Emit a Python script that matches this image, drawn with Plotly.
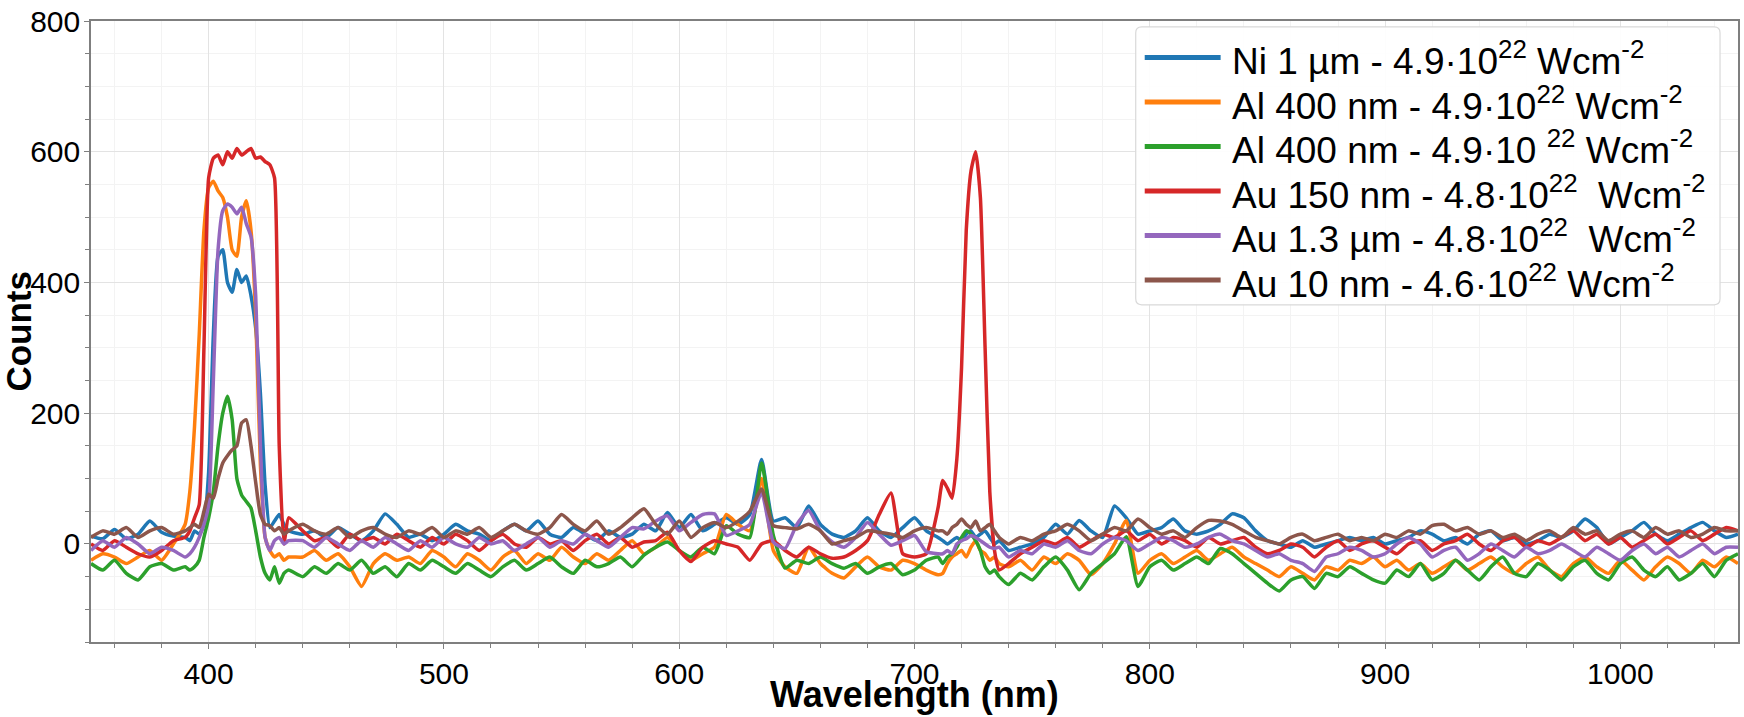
import plotly.graph_objects as go

# ---------------- data ----------------
wavelength = [
    350, 355, 360, 365, 370, 375, 380, 385,
    390, 392, 394, 396, 398, 400, 402, 404, 406, 408, 410, 412, 414, 416, 418, 420, 422, 424, 426, 428, 430, 432, 434,
    440, 445, 450, 455, 460, 465, 470, 475, 480, 485,
    490, 495, 500, 505, 510, 515, 520, 525, 530, 535,
    540, 545, 550, 555, 560, 565, 570, 575, 580, 585,
    590, 595, 600, 605, 610, 615, 620, 625, 630, 635,
    640, 645, 650, 655, 660, 665, 670, 675, 680, 685,
    690, 695, 700, 705, 710,
    712, 714, 716, 718, 720, 722, 724, 726, 728, 730, 732, 734, 736,
    740, 745, 750, 755, 760, 765, 770, 775, 780, 785,
    790, 795, 800, 805, 810, 815, 820, 825, 830, 835,
    840, 845, 850, 855, 860, 865, 870, 875, 880, 885,
    890, 895, 900, 905, 910, 915, 920, 925, 930, 935,
    940, 945, 950, 955, 960, 965, 970, 975, 980, 985,
    990, 995, 1000, 1005, 1010, 1015, 1020, 1025, 1030, 1035,
    1040, 1045, 1050,
]

ni_1um = [
    12, 8, 22, 8, 15, 35, 18, 12,
    10, 5, 20, 15, 30, 110, 320, 440, 450, 400, 385, 420, 400, 410, 380, 330, 230, 90, 25, 35, 45, 30, 20,
    15, 20, 10, 25, 15, 5, 20, 46, 30, 10,
    15, 5, 15, 30, 20, 15, 5, 20, 30, 20,
    35, 15, 10, 25, 15, 5, 20, 10, 15, 30,
    20, 48, 25, 45, 20, 30, 40, 30, 45, 129,
    35, 40, 25, 58, 30, 15, 10, 20, 40, 20,
    10, 25, 40, 20, 10,
    5, 0, 5, 10, 5, 15, 20, 10, 15, 20, 10, 0, 5,
    -10, -5, 0, 10, 30, 15, 36, 20, 10, 58,
    40, 15, 20, 25, 38, 20, 15, 20, 30, 46,
    40, 20, 5, 0, -5, 5, -5, 0, 5, 10,
    5, 10, 0, 5, 10, 20, 15, 5, 10, 0,
    15, 20, 5, 10, 0, 5, 15, 10, 20, 38,
    25, 0, 10, 20, 33, 15, 5, 15, 25, 33,
    20, 10, 15,
]

al_400nm_a = [
    -25, -15, -20, -30, -20, -10, -25, 0,
    30, 80, 180, 320, 480, 545, 555, 540, 530, 500, 450, 440, 500, 525, 480, 350, 120, 10, -10, -20, -15, -25, -20,
    -20, -10, -25, -15, -35, -65, -30, -15, -25, -20,
    -30, -10, -20, -35, -15, -25, -40, -20, -10, -30,
    -15, -25, -5, -20, -30, -15, -25, -10, 5, -15,
    -5, 10, -10, -25, -15, -5, 45, 30, 20, 100,
    -10, -35, -45, -5, -30, -45, -52, -35, -20, -35,
    -40, -25, -30, -40, -47,
    -45, -30, -20, -15, -10, -20, -5, 5, -10, -15, -25, -20, -30,
    -35, -25, -40, -20, -30, -15, -25, -47, -30, 0,
    36, -45, -25, -15, -30, -20, -10, -25, -15, -5,
    -20, -30, -40, -50, -35, -45, -55, -35, -40, -25,
    -30, -20, -35, -25, -40, -30, -45, -35, -25, -40,
    -30, -20, -35, -45, -30, -20, -40, -50, -30, -20,
    -35, -45, -25, -40, -55, -35, -20, -30, -45, -25,
    -35, -20, -30,
]

al_400nm_b = [
    -30, -40, -25, -45, -55, -35, -30, -40,
    -35, -40, -35, -25, 10, 40, 80, 150, 200, 226, 190, 100, 75, 65, 55, 20, -20, -45, -55, -35, -60, -45, -40,
    -50, -35, -45, -30, -40, -25, -45, -35, -50, -30,
    -40, -25, -35, -45, -30, -40, -50, -35, -25, -40,
    -30, -20, -35, -45, -25, -35, -30, -20, -35, -17,
    -5, 3, -10, -20, -5, -15, 28, 15, 10, 124,
    13, -37, -25, -30, -20, -30, -37, -30, -45, -35,
    -30, -47, -40, -25, -20,
    -30, -20, -15, -5, 10, 20, 15, 5, -10, -35, -45, -40, -50,
    -62, -45, -55, -35, -20, -40, -70, -45, -30, -15,
    11, -65, -35, -25, -40, -30, -20, -30, -7, -15,
    -30, -45, -60, -72, -55, -50, -68, -45, -50, -35,
    -45, -55, -60, -40, -50, -30, -55, -45, -25, -40,
    -55, -35, -20, -45, -50, -30, -40, -55, -35, -25,
    -45, -55, -30, -20, -40, -50, -35, -55, -45, -30,
    -50, -25, -15,
]

au_150nm = [
    0, -10, 5, -5, -15, -20, -10, 5,
    10, 20, 40, 60, 300, 560, 590, 595, 580, 600, 590, 605, 595, 600, 605, 590, 592, 585, 580, 560, 150, 0, 40,
    20, 5, 10, -5, 15, 5, 10, 0, 15, 5,
    -5, 10, 0, 15, 5, -10, 5, 15, 0, -5,
    10, 0, 5, -10, 5, 15, 0, 10, -5, 3,
    5, 18, -10, -27, -5, 5, 0, -5, -25, 0,
    5, -10, -20, -5, -15, -22, -20, -10, 5, 45,
    78, -15, -20, -15, 55,
    97, 85, 70, 130, 270, 480, 570, 600, 530, 300, 80, -10, -40,
    -30, -15, -5, 5, 0, 10, -5, 5, 15, 10,
    20, 5, 15, 0, 10, 5, -5, 10, 0, 5,
    10, -5, -15, -10, 0, -5, -20, -5, 5, -10,
    0, 5, -5, -15, 0, 5, -10, 0, 5, 15,
    0, -10, 5, 10, -5, 5, 0, 10, 20, 5,
    15, 0, 10, -5, 5, 15, 0, 10, 20, 5,
    15, 25, 20,
]

au_1_3um = [
    -10, 5, -5, 10, 0, -15, -5, -10,
    -20, -15, -5, 10, 30, 60, 250, 450, 510, 520, 515, 505, 515, 490, 470, 380, 150, 10, -10, 5, 10, 0, 5,
    5, -5, 10, 0, -10, 5, -5, 10, 0, -10,
    5, -5, 10, 0, -5, 10, 0, 5, -10, 0,
    10, -5, 5, 0, 15, 5, -5, 10, 25, 23,
    35, 43, 20, 33, 45, 46, 13, 20, 30, 79,
    3, -7, 30, 51, 20, 3, -5, 10, 33, 15,
    -2, 5, 13, -12, -15,
    -15, -10, -15, 0, 5, 8, 13, 10, 5, 0, -5, -7, -5,
    -20, -10, -15, 0, -5, 5, -10, -15, 0, 10,
    5, -10, 0, 10, 5, -5, 0, 10, 15, 5,
    0, -10, -20, -15, -25, -30, -42, -20, -15, -5,
    -10, -20, -15, 0, 10, 0, -20, -10, -5, -25,
    -15, 0, -10, -20, -5, -15, -10, 0, -10, -20,
    -5, -15, -25, -10, 0, -15, -5, -20, -10, 0,
    -15, -5, -5,
]

au_10nm = [
    10, 20, 15, 25, 10, 20, 25, 15,
    20, 25, 30, 25, 50, 76, 70, 100, 124, 135, 144, 150, 185, 190, 150, 94, 45, 30, 28, 20, 25, 15, 20,
    30, 20, 15, 25, 10, 20, 25, 15, 10, 20,
    15, 25, 10, 20, 15, 25, 10, 20, 30, 20,
    15, 25, 45, 30, 20, 35, 15, 25, 40, 54,
    30, 15, 35, 10, 25, 33, 25, 35, 50, 84,
    28, 25, 23, 30, 20, 0, 5, 10, 20, 18,
    15, 10, 20, 25, 20,
    20, 15, 25, 30, 38, 30, 25, 35, 20, 25, 30, 20, 10,
    0, 10, 5, 15, 20, 30, 20, 5, 15, 25,
    20, 38, 25, 15, 20, 10, 25, 36, 35, 30,
    20, 10, 5, 0, 10, 15, 5, 10, 15, 5,
    10, 5, 15, 10, 20, 15, 28, 30, 20, 25,
    15, 20, 10, 15, 5, 15, 20, 10, 25, 15,
    20, 5, 15, 20, 10, 25, 15, 20, 10, 15,
    25, 20, 20,
]

series_names = [
    "Ni 1 µm - 4.9·10<sup>22</sup> Wcm<sup>-2</sup>",
    "Al 400 nm - 4.9·10<sup>22</sup> Wcm<sup>-2</sup>",
    "Al 400 nm - 4.9·10 <sup>22</sup> Wcm<sup>-2</sup>",
    "Au 150 nm - 4.8·10<sup>22</sup>  Wcm<sup>-2</sup>",
    "Au 1.3 µm - 4.8·10<sup>22</sup>  Wcm<sup>-2</sup>",
    "Au 10 nm - 4.6·10<sup>22</sup> Wcm<sup>-2</sup>",
]
series_values = [ni_1um, al_400nm_a, al_400nm_b, au_150nm, au_1_3um, au_10nm]
series_colors = ["#1f77b4", "#ff7f0e", "#2ca02c", "#d62728", "#9467bd", "#8c564b"]

x_ticks = [400, 500, 600, 700, 800, 900, 1000]
y_ticks = [0, 200, 400, 600, 800]

# ---------------- figure ----------------
FONT = "Arial, Liberation Sans, sans-serif"
W, H = 1744, 717
ML, MR, MT, MB = 91, 4, 14, 75
PW, PH = W - ML - MR, H - MT - MB


def px_x(px):  # figure pixel -> paper x
    return (px - ML) / PW


def px_y(py):  # figure pixel -> paper y
    return (H - MB - py) / PH


fig = go.Figure()
for name, vals, col in zip(series_names, series_values, series_colors):
    fig.add_trace(go.Scatter(
        x=wavelength, y=vals, mode="lines", name=name,
        line=dict(color=col, width=3.5, shape="spline", smoothing=0.5),
        showlegend=False,
    ))

# ---- custom legend (long line samples, tight rows, rounded frame) ----
box_l, box_r, box_t, box_b = 1137, 1722, 20, 301
rad = 6
x0, x1 = px_x(box_l), px_x(box_r)
y0, y1 = px_y(box_b), px_y(box_t)
rx, ry = rad / PW, rad / PH
path = (f"M{x0+rx},{y1} L{x1-rx},{y1} Q{x1},{y1} {x1},{y1-ry} "
        f"L{x1},{y0+ry} Q{x1},{y0} {x1-rx},{y0} L{x0+rx},{y0} "
        f"Q{x0},{y0} {x0},{y0+ry} L{x0},{y1-ry} Q{x0},{y1} {x0+rx},{y1} Z")
fig.add_shape(type="path", path=path, xref="paper", yref="paper",
              line=dict(color="#d9d9d9", width=1.2), fillcolor="rgba(255,255,255,0.92)",
              layer="above")

row_top, row_step = 51, 45
for i, (name, col) in enumerate(zip(series_names, series_colors)):
    cy = row_top + i * row_step
    fig.add_shape(type="line", xref="paper", yref="paper",
                  x0=px_x(1146), x1=px_x(1222), y0=px_y(cy), y1=px_y(cy),
                  line=dict(color=col, width=5), layer="above")
    fig.add_annotation(x=px_x(1232), y=px_y(cy + 1), xref="paper", yref="paper",
                       text=name, showarrow=False, xanchor="left", yanchor="middle",
                       borderpad=0,
                       font=dict(family=FONT, size=37, color="#000000"))

# ---- axis titles as annotations (exact placement) ----
fig.add_annotation(x=0.5, y=px_y(717), xref="paper", yref="paper",
                   text="<b>Wavelength (nm)</b>", showarrow=False,
                   xanchor="center", yanchor="bottom", borderpad=0,
                   font=dict(family=FONT, size=36, color="#000000"))
fig.add_annotation(x=px_x(18), y=0.5, xref="paper", yref="paper",
                   text="<b>Counts</b>", showarrow=False, textangle=-90,
                   xanchor="center", yanchor="middle", borderpad=0,
                   font=dict(family=FONT, size=35, color="#000000"))

axis_common = dict(
    showline=True, linecolor="#7f7f7f", linewidth=1.5, mirror=True,
    ticks="outside", ticklen=5, tickcolor="#7f7f7f", tickwidth=1,
    showgrid=True, gridcolor="#e3e3e3", gridwidth=1,
    zeroline=False, ticklabeloverflow="allow",
    tickfont=dict(family=FONT, size=30, color="#000000"),
)

fig.update_layout(
    width=W, height=H,
    margin=dict(l=ML, r=MR, t=MT, b=MB),
    paper_bgcolor="white", plot_bgcolor="white",
    font=dict(family=FONT, color="#000000"),
    xaxis=dict(
        range=[350, 1050], tickvals=x_ticks, ticklabelstandoff=-1,
        minor=dict(dtick=20, tick0=0, ticks="outside", ticklen=4, tickcolor="#7f7f7f",
                   showgrid=True, gridcolor="#f3f3f3"),
        **axis_common,
    ),
    yaxis=dict(
        range=[-150, 800], tickvals=y_ticks, ticklabelstandoff=-2,
        minor=dict(dtick=50, tick0=0, ticks="outside", ticklen=4, tickcolor="#7f7f7f",
                   showgrid=True, gridcolor="#f3f3f3"),
        **axis_common,
    ),
    showlegend=False,
)

fig.write_html("out.html")
